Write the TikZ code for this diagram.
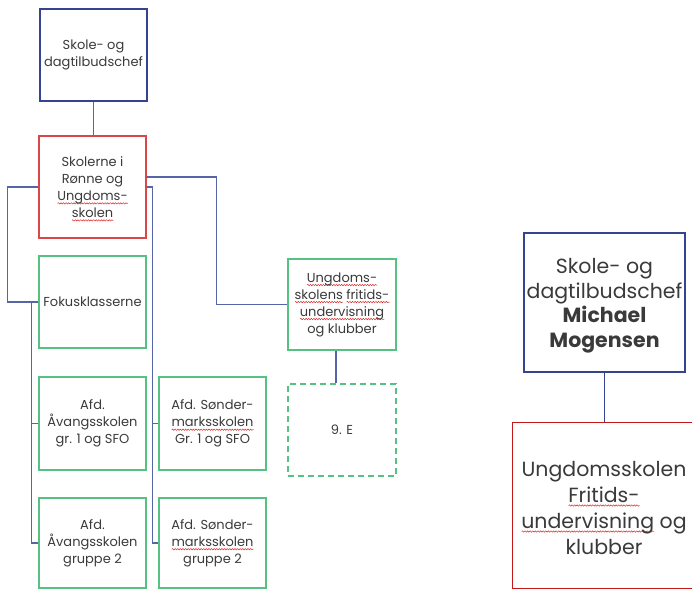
\documentclass[tikz,border=0pt]{standalone}
\usepackage{fontspec}
\setmainfont{Poppins}
\usetikzlibrary{decorations.pathmorphing}
\definecolor{navy}{HTML}{34448F}
\definecolor{conn}{HTML}{5565A5}
\definecolor{boxred}{HTML}{D9474B}
\definecolor{darkred}{HTML}{C41818}
\definecolor{boxgreen}{HTML}{55C282}
\definecolor{txt}{HTML}{3A3A3A}
\definecolor{spellred}{HTML}{E02020}
\newlength\spwlen
\newcommand\spw[1]{\settowidth\spwlen{#1}\leavevmode\rlap{\raisebox{-3pt}[0pt][0pt]{\tikz[x=1pt,y=1pt,baseline=0pt]\draw[spellred,line width=0.45pt,solid,decorate,decoration={snake,amplitude=0.7pt,segment length=2.6pt}] (0,0) -- (\spwlen,0);}}#1}
\begin{document}
\begin{tikzpicture}[x=1pt,y=-1pt,
  box/.style={draw,line width=1.4pt,align=center,inner sep=0pt,text=txt,
    font=\fontsize{13}{17}\selectfont},
  bluebox/.style={box,draw=navy},
  redbox/.style={box,draw=boxred},
  greenbox/.style={box,draw=boxgreen},
  bigtext/.style={text=txt,align=center,inner sep=0pt},
  link/.style={draw=conn,line width=1.3pt}]
\useasboundingbox (0,0) rectangle (692,589);
\clip (0,0) rectangle (692,589);
% left chart
\node[bluebox,minimum width=107pt,minimum height=92pt] (chef) at (93.5,55) {Skole- og\\dagtilbudschef};
\node[redbox,minimum width=107pt,minimum height=102pt] (skoler) at (92.5,187) {Skolerne i\\Rønne og\\\spw{Ungdoms-}\\\spw{skolen}};
\node[greenbox,minimum width=107pt,minimum height=92pt] (fokus) at (92.5,302) {Fokusklasserne};
\node[greenbox,minimum width=108pt,minimum height=91pt] (ungd) at (342,304.5) {\spw{Ungdoms-}\\\spw{skolens} \spw{fritids-}\\\spw{undervisning}\\og klubber};
\node[greenbox,dashed,dash pattern=on 6pt off 4pt,minimum width=108pt,minimum height=92pt] (ni) at (342,430) {9. E};
\node[greenbox,minimum width=107pt,minimum height=93pt] (av1) at (92.5,423.5) {Afd.\\Åvangsskolen\\gr. 1 og SFO};
\node[greenbox,minimum width=107pt,minimum height=93pt] (so1) at (212.5,423.5) {Afd. Sønder-\\\spw{marksskolen}\\Gr. 1 og SFO};
\node[greenbox,minimum width=107pt,minimum height=90pt] (av2) at (92.5,543) {Afd.\\Åvangsskolen\\gruppe 2};
\node[greenbox,minimum width=107pt,minimum height=90pt] (so2) at (212.5,543) {Afd. Sønder-\\\spw{marksskolen}\\gruppe 2};
% right chart
\node[bluebox,minimum width=161pt,minimum height=139pt] (mm) at (604.5,302.5) {};
\node[bigtext,font=\fontsize{20.5}{24.5}\selectfont] (mmtext) at (604.5,305.5) {Skole- og\\dagtilbudschef\\\textbf{Michael}\\\textbf{Mogensen}};
\node[box,draw=darkred,minimum width=200pt,minimum height=166pt,anchor=north west] (ufu) at (512,422) {};
\node[bigtext,font=\fontsize{20.5}{26}\selectfont] (ufutext) at (604,508) {Ungdomsskolen\\\spw{Fritids-}\\\spw{undervisning} og\\klubber};
% connectors
\draw[link] (chef.south) -- (chef.south |- skoler.north);
\draw[link] ([yshift=10pt]skoler.east) -- ++(70,0) |- (ungd.west);
\draw[link] (skoler.west) -- ++(-31,0) |- (fokus.west);
\draw[link] (skoler.east) -- ++(6,0) coordinate (rv) |- (so2.west);
\draw[link] (rv |- so1.west) -- (so1.west);
\draw[link] ([xshift=-7pt]fokus.west) coordinate (lv) |- (av2.west);
\draw[link] (lv |- av1.west) -- (av1.west);
\draw[link] ([xshift=-6pt]ungd.south) -- ([xshift=-6pt]ni.north);
\draw[link,draw=navy] (mm.south) -- (mm.south |- ufu.north);
\end{tikzpicture}
\end{document}
